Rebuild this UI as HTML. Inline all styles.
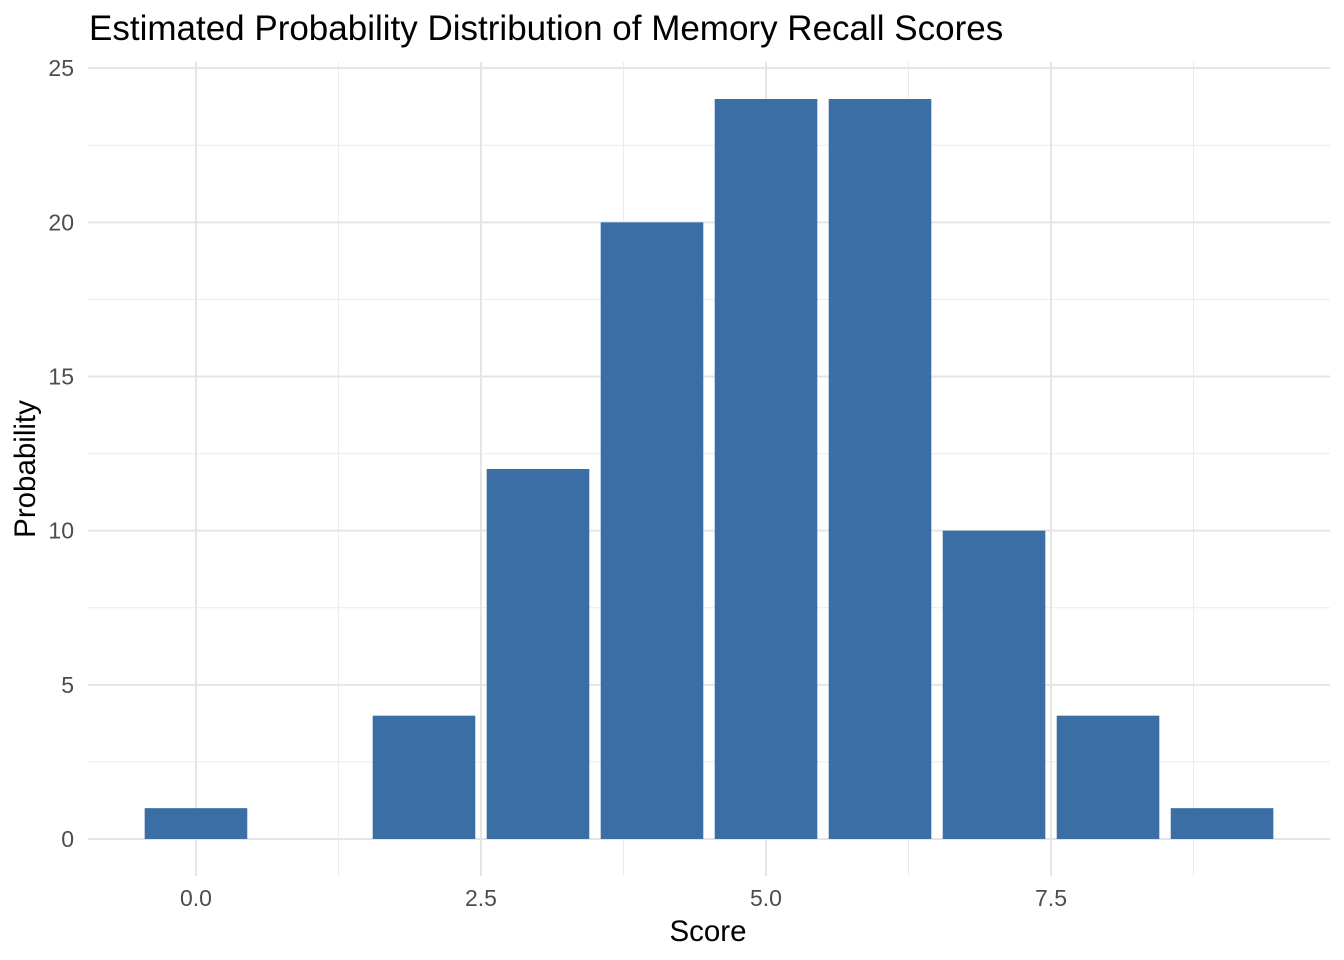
<!DOCTYPE html>
<html><head><meta charset="utf-8">
<style>
html,body{margin:0;padding:0;background:#fff;}
svg{display:block;font-family:"Liberation Sans",Arial,sans-serif;}
</style></head>
<body>
<svg id="chart" width="1344" height="960">
<text x="89" y="40" font-size="35" fill="#000">Estimated Probability Distribution of Memory Recall Scores</text>
<g id="grid"></g>
<g id="bars"></g>
<g id="ticks"></g>
<text x="708" y="941" font-size="29.5" text-anchor="middle" fill="#000">Score</text>
<text transform="translate(35,469) rotate(-90)" font-size="29.5" text-anchor="middle" fill="#000">Probability</text>
</svg>
<script>
const scores = [0,1,2,3,4,5,6,7,8,9];
const probs = [1,0,4,12,20,24,24,10,4,1];
const xTicks = [0,2.5,5,7.5];
const xTickLabels = ["0.0","2.5","5.0","7.5"];
const xMinor = [1.25,3.75,6.25,8.75];
const yTicks = [0,5,10,15,20,25];
const yMinor = [2.5,7.5,12.5,17.5,22.5];

const NS="http://www.w3.org/2000/svg";
const X0=88,X1=1330,Y0=62,Y1=876;
const xMinV=-0.947,xMaxV=9.947,yMinV=-1.2,yMaxV=25.2;
const xs=v=>X0+(v-xMinV)/(xMaxV-xMinV)*(X1-X0);
const ys=v=>Y1-(v-yMinV)/(yMaxV-yMinV)*(Y1-Y0);
function mk(tag,attrs,parent){const e=document.createElementNS(NS,tag);for(const k in attrs)e.setAttribute(k,attrs[k]);parent.appendChild(e);return e;}
const grid=document.getElementById('grid'),bars=document.getElementById('bars'),ticks=document.getElementById('ticks');
yMinor.forEach(v=>{const l=mk('line',{x1:X0,x2:X1,y1:ys(v),y2:ys(v),stroke:'#ebebeb','stroke-width':1},grid);

});
xMinor.forEach(v=>{const l=mk('line',{x1:xs(v),x2:xs(v),y1:Y0,y2:Y1,stroke:'#ebebeb','stroke-width':1},grid);

});
yTicks.forEach(v=>{const l=mk('line',{x1:X0,x2:X1,y1:ys(v),y2:ys(v),stroke:'#e5e5e5','stroke-width':2},grid);


const t=mk('text',{x:74,y:ys(v)+8,'font-size':23,fill:'#4d4d4d','text-anchor':'end'},ticks);t.textContent=v;

});
xTicks.forEach((v,i)=>{const l=mk('line',{x1:xs(v),x2:xs(v),y1:Y0,y2:Y1,stroke:'#e5e5e5','stroke-width':2},grid);


const t=mk('text',{x:xs(v),y:906,'font-size':23,fill:'#4d4d4d','text-anchor':'middle'},ticks);t.textContent=xTickLabels[i];

});
scores.forEach((s,i)=>{const p=probs[i];if(p<=0)return;
const r=mk('rect',{x:xs(s-0.45),y:ys(p),width:xs(s+0.45)-xs(s-0.45),height:ys(0)-ys(p),fill:'#3a6ea5'},bars);

});
</script>
</body></html>
